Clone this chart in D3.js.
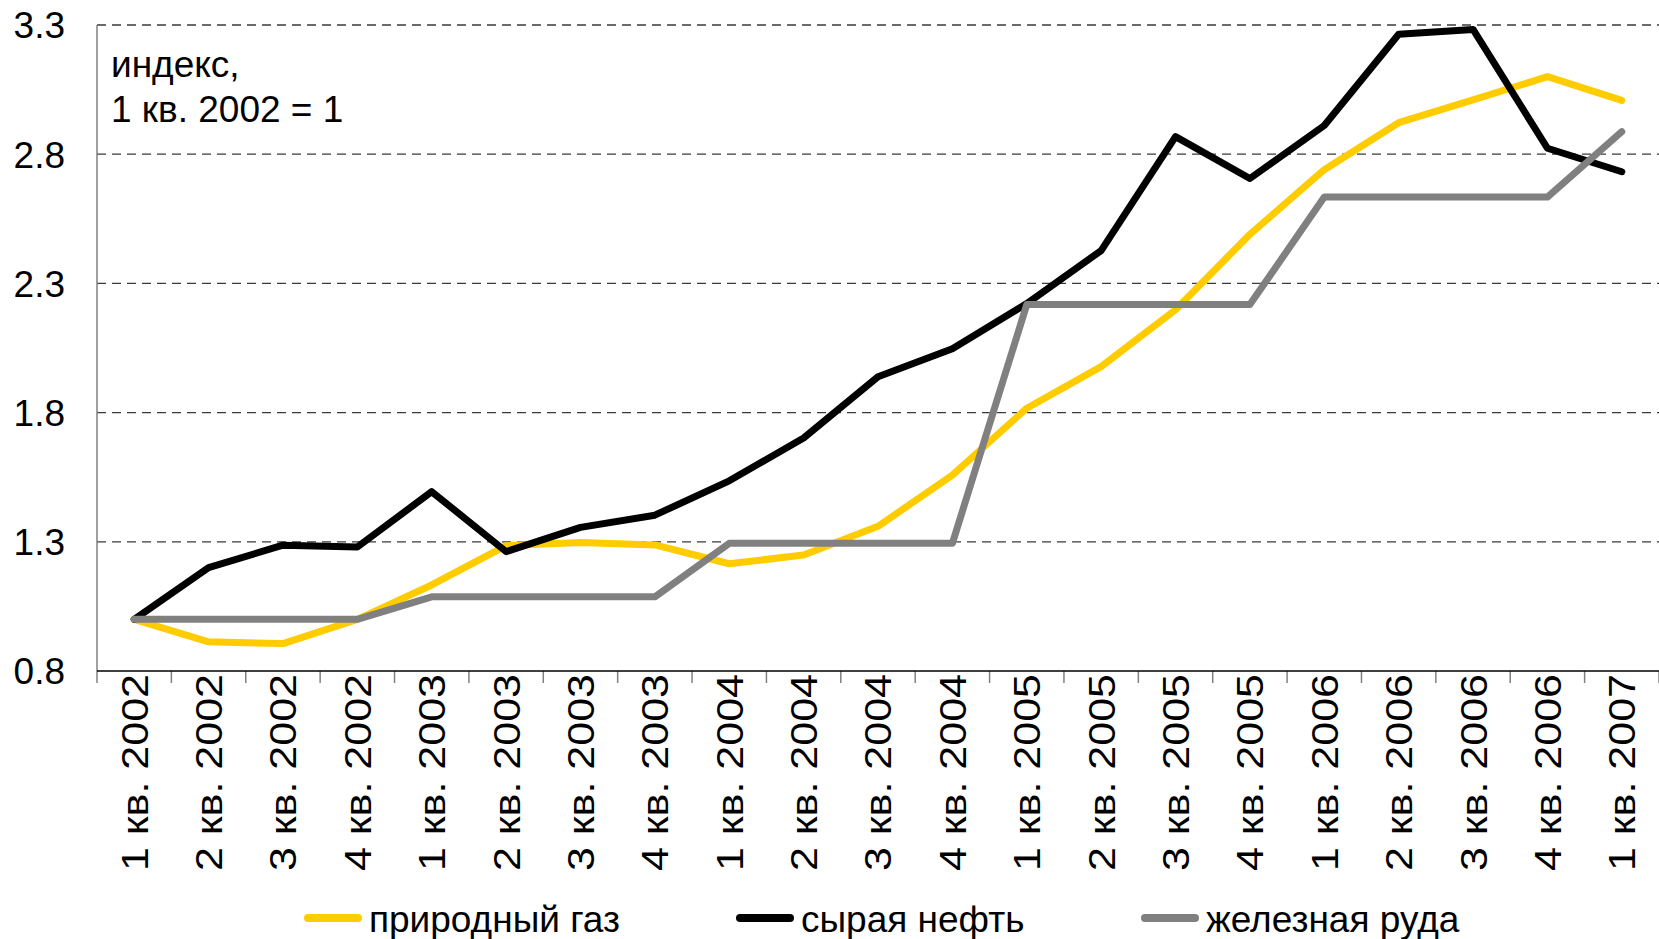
<!DOCTYPE html>
<html>
<head>
<meta charset="utf-8">
<script src="https://cdn.jsdelivr.net/npm/d3@7"></script>
<style>
  body { margin: 0; background: #fff; }
  text { font-family: "Liberation Sans", Arial, sans-serif; fill: #000; }
</style>
</head>
<body>
<svg id="chart"></svg>
<script>
//------ Données ------
var quarters = ["1 кв. 2002", "2 кв. 2002", "3 кв. 2002", "4 кв. 2002",
                "1 кв. 2003", "2 кв. 2003", "3 кв. 2003", "4 кв. 2003",
                "1 кв. 2004", "2 кв. 2004", "3 кв. 2004", "4 кв. 2004",
                "1 кв. 2005", "2 кв. 2005", "3 кв. 2005", "4 кв. 2005",
                "1 кв. 2006", "2 кв. 2006", "3 кв. 2006", "4 кв. 2006",
                "1 кв. 2007"];

var gas  = [1.00, 0.913, 0.906, 1.00, 1.133, 1.285, 1.297, 1.288, 1.215, 1.249,
            1.36, 1.558, 1.817, 1.978, 2.198, 2.49, 2.74, 2.922, 3.01, 3.10, 3.008];
var oil  = [1.00, 1.20, 1.287, 1.28, 1.494, 1.262, 1.356, 1.403, 1.536, 1.702,
            1.939, 2.047, 2.222, 2.427, 2.868, 2.706, 2.911, 3.264, 3.283, 2.823, 2.732];
var iron = [1.00, 1.00, 1.00, 1.00, 1.087, 1.087, 1.087, 1.087, 1.294, 1.294,
            1.294, 1.294, 2.218, 2.218, 2.218, 2.218, 2.634, 2.634, 2.634, 2.634, 2.887];

var yTicks = [0.8, 1.3, 1.8, 2.3, 2.8, 3.3];
var seriesNames = ["природный газ", "сырая нефть", "железная руда"];
var seriesColors = ["#ffcc00", "#000000", "#808080"];

//------ Rendre le graphique ------
var width = 1659, height = 939;
var plotLeft = 97, plotTop = 25, plotRight = 1659, plotBottom = 671;

var svg = d3.select("#chart")
    .attr("width", width)
    .attr("height", height);

var x = d3.scaleBand().domain(quarters).range([plotLeft, plotRight]);
var y = d3.scaleLinear().domain([0.8, 3.3]).range([plotBottom, plotTop]);

// grille
svg.append("g")
    .selectAll("line")
    .data(yTicks.filter(d => d > 0.8))
    .enter().append("line")
    .attr("x1", plotLeft).attr("x2", plotRight)
    .attr("y1", d => y(d)).attr("y2", d => y(d))
    .attr("stroke", "#3a3a3a")
    .attr("stroke-width", 1.3)
    .attr("stroke-dasharray", "9,6");

// axe Y
svg.append("line")
    .attr("x1", plotLeft).attr("x2", plotLeft)
    .attr("y1", plotTop).attr("y2", plotBottom)
    .attr("stroke", "#808080").attr("stroke-width", 1.5);

svg.append("g")
    .selectAll("text")
    .data(yTicks)
    .enter().append("text")
    .attr("x", 65)
    .attr("y", d => y(d))
    .attr("dy", "0.36em")
    .attr("text-anchor", "end")
    .style("font-size", "37px")
    .text(d => d3.format(".1f")(d));

// axe X
svg.append("g")
    .selectAll("line")
    .data(quarters.map((q, i) => plotLeft + i * x.step()).concat([plotRight]))
    .enter().append("line")
    .attr("x1", d => d).attr("x2", d => d)
    .attr("y1", plotBottom).attr("y2", plotBottom + 12)
    .attr("stroke", "#808080").attr("stroke-width", 1.5);

svg.append("line")
    .attr("x1", plotLeft).attr("x2", plotRight)
    .attr("y1", plotBottom).attr("y2", plotBottom)
    .attr("stroke", "#000").attr("stroke-width", 1.5);

svg.append("g")
    .selectAll("text")
    .data(quarters)
    .enter().append("text")
    .attr("transform", d => `translate(${x(d) + x.bandwidth() / 2},${plotBottom + 3}) rotate(-90) scale(1,0.87)`)
    .attr("dy", "0.36em")
    .attr("text-anchor", "end")
    .style("font-size", "43px")
    .text(d => d);

// courbes
var line = d3.line()
    .x((d, i) => x(quarters[i]) + x.bandwidth() / 2)
    .y(d => y(d));

[gas, oil, iron].forEach(function (s, k) {
    svg.append("path")
        .datum(s)
        .attr("fill", "none")
        .attr("stroke", seriesColors[k])
        .attr("stroke-width", 7)
        .attr("stroke-linejoin", "round")
        .attr("stroke-linecap", "round")
        .attr("d", line);
});

// annotation
var note = svg.append("text")
    .attr("x", 111)
    .style("font-size", "37px");
note.append("tspan").attr("x", 111).attr("y", 77).text("индекс,");
note.append("tspan").attr("x", 111).attr("y", 122).text("1 кв. 2002 = 1");

// légende
var legendX = [308, 740, 1145];
var legend = svg.append("g")
    .selectAll("g")
    .data(seriesNames)
    .enter().append("g")
    .attr("transform", (d, i) => `translate(${legendX[i]},918)`);

legend.append("line")
    .attr("x1", 0).attr("x2", 50)
    .attr("stroke", (d, i) => seriesColors[i])
    .attr("stroke-width", 8)
    .attr("stroke-linecap", "round");

legend.append("text")
    .attr("x", 61)
    .attr("y", 14)
    .style("font-size", "37px")
    .text(d => d);
</script>
</body>
</html>
